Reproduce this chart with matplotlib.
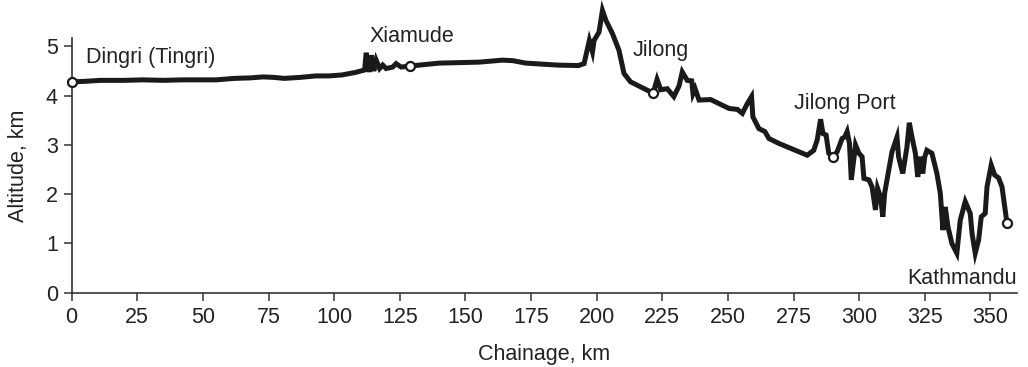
import matplotlib.pyplot as plt

plt.rcParams["font.family"] = ["Liberation Sans", "DejaVu Sans"]

# chainage (km) and altitude (km) along the route
chainage = [
    0, 5, 11, 20, 27, 35, 42, 49, 55, 62, 68, 73, 77, 81, 87, 93, 98, 103,
    108, 111.6, 112.2, 113.5, 114.1, 115.1, 116, 117.3, 118.5, 119.8, 122.3,
    123.6, 125.5, 128.7, 140, 155.3, 164, 168, 173, 185, 193, 195.2, 197.2,
    198.4, 199, 200.9, 202.2, 203.5, 206, 208.5, 210.4, 212.9, 217, 221.5,
    223, 224.4, 226.9, 229.4, 231.4, 232.6, 234.5, 236.2, 236.7, 237.5, 239,
    243.4, 250.4, 253.6, 255.5, 257.4, 259, 259.5, 261.8, 264.1, 265.6,
    269.4, 277, 280.2, 282.7, 284, 285.3, 286.2, 287.4, 288.4, 290, 291.6,
    293.5, 294.5, 295.4, 296.3, 297, 298.6, 299.9, 301.1, 301.8, 303.7,
    304.9, 306.2, 307, 308.1, 309, 309.7, 312.5, 314.4, 315, 316.6, 318.2,
    319.1, 320.1, 321.4, 322.3, 323.3, 324.2, 325, 325.8, 327.7, 329.6,
    330.9, 331.9, 332.8, 333.8, 335.3, 337.2, 338.5, 340.4, 342.3, 343,
    344.2, 345.5, 346.5, 348, 348.7, 350.3, 351.6, 353.1, 354.4, 356.3,
]
altitude = [
    4.28, 4.29, 4.31, 4.31, 4.32, 4.31, 4.32, 4.32, 4.32, 4.35, 4.36, 4.38,
    4.37, 4.35, 4.37, 4.40, 4.40, 4.42, 4.47, 4.52, 4.87, 4.48, 4.82, 4.50,
    4.72, 4.55, 4.62, 4.55, 4.58, 4.65, 4.58, 4.60, 4.66, 4.68, 4.72, 4.71,
    4.66, 4.62, 4.61, 4.65, 5.12, 4.89, 5.12, 5.29, 5.73, 5.53, 5.26, 4.92,
    4.45, 4.28, 4.17, 4.05, 4.33, 4.12, 4.14, 3.98, 4.20, 4.48, 4.31, 4.30,
    4.04, 4.14, 3.91, 3.92, 3.74, 3.72, 3.64, 3.84, 3.98, 3.57, 3.33, 3.27,
    3.13, 3.03, 2.86, 2.79, 2.89, 3.10, 3.52, 3.23, 3.20, 2.83, 2.75, 2.86,
    3.13, 3.16, 3.27, 3.03, 2.29, 3.00, 2.83, 2.76, 2.32, 2.29, 2.15, 1.68,
    2.12, 1.95, 1.54, 2.02, 2.86, 3.16, 2.76, 2.42, 2.96, 3.45, 3.16, 2.83,
    2.35, 2.76, 2.42, 2.76, 2.89, 2.83, 2.42, 2.02, 1.27, 1.74, 1.34, 1.00,
    0.80, 1.47, 1.85, 1.61, 1.20, 0.80, 1.07, 1.54, 1.61, 2.15, 2.59, 2.39,
    2.33, 2.15, 1.41,
]

# stations marked with open circles
station_names = ["Dingri (Tingri)", "Xiamude", "Jilong", "Jilong Port", "Kathmandu"]
station_km = [0, 128.7, 221.5, 290, 356.3]
station_alt = [4.28, 4.60, 4.05, 2.75, 1.41]
label_x = [5.3, 129.5, 213.5, 275, 318.5]
label_y = [4.78, 5.2, 4.92, 3.85, 0.28]
label_ha = ["left", "center", "left", "left", "left"]

x_ticks = list(range(0, 351, 25))
y_ticks = [0, 1, 2, 3, 4, 5]

text_color = "#222222"
fs = 15.5

fig = plt.figure(figsize=(10.28, 3.67), dpi=100)
ax = fig.add_axes([0.0697, 0.2025, 0.9193, 0.694])

ax.plot(chainage, altitude, color="#1a1a1a", lw=3.6, solid_joinstyle="miter",
        zorder=2, clip_on=False)
ax.plot(station_km, station_alt, "o", ms=6.5, mfc="white", mec="#1a1a1a",
        mew=1.6, zorder=3, clip_on=False)

for name, x, y, ha in zip(station_names, label_x, label_y, label_ha):
    ax.text(x, y, name, ha=ha, va="center", fontsize=fs, color=text_color)

ax.set_xlim(0, 360)
ax.set_ylim(0, 5.17)
ax.set_xticks(x_ticks)
ax.set_yticks(y_ticks)

for side in ["top", "right"]:
    ax.spines[side].set_visible(False)
for side in ["left", "bottom"]:
    ax.spines[side].set_color("#333333")
    ax.spines[side].set_linewidth(1.2)

ax.tick_params(direction="out", length=6, width=1.1, colors="#333333",
               labelsize=fs, labelcolor=text_color, pad=4)

ax.set_xlabel("Chainage, km", fontsize=fs, color=text_color, labelpad=12)
ax.set_ylabel("Altitude, km", fontsize=fs, color=text_color, labelpad=12)

plt.savefig("out.png", dpi=100)
plt.close(fig)
